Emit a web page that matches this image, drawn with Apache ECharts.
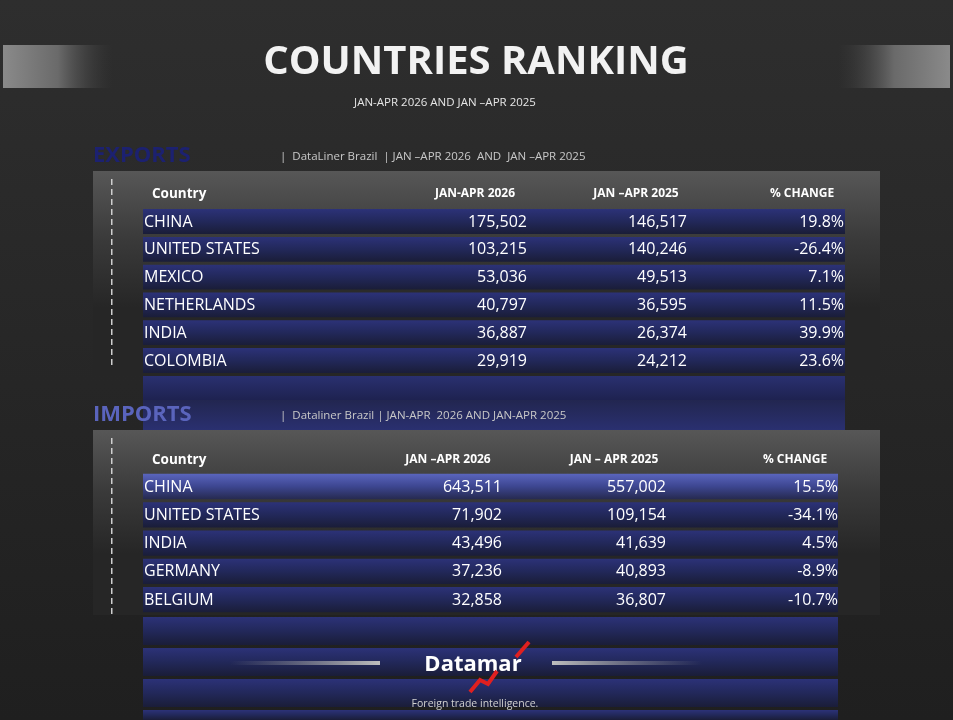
<!DOCTYPE html>
<html><head><meta charset="utf-8">
<script src="https://cdn.jsdelivr.net/npm/echarts@6/dist/echarts.min.js"></script>
<style>html,body{margin:0;padding:0;background:#262626}#c{width:953px;height:720px}</style>
</head><body><div id="c"></div>
<script>
const exportCountries = ["CHINA","UNITED STATES","MEXICO","NETHERLANDS","INDIA","COLOMBIA"];
const exports2026 = [175502,103215,53036,40797,36887,29919];
const exports2025 = [146517,140246,49513,36595,26374,24212];
const exportsChange = ["19.8%","-26.4%","7.1%","11.5%","39.9%","23.6%"];
const exportHeaders = ["Country","JAN-APR 2026","JAN –APR 2025","% CHANGE"];

const importCountries = ["CHINA","UNITED STATES","INDIA","GERMANY","BELGIUM"];
const imports2026 = [643511,71902,43496,37236,32858];
const imports2025 = [557002,109154,41639,40893,36807];
const importsChange = ["15.5%","-34.1%","4.5%","-8.9%","-10.7%"];
const importHeaders = ["Country","JAN –APR 2026","JAN – APR 2025","% CHANGE"];

const FONT = '"Open Sans",sans-serif';
const fmt = v => v.toLocaleString('en-US');
const g = [];
function txt(x,y,s,size,color,opt){
  opt=opt||{};
  g.push({type:'text',x:x,y:y,z:10,style:{text:s,fontSize:size,fill:color,fontFamily:opt.font||FONT,
    fontWeight:opt.bold?'bold':'normal',align:opt.align||'left',verticalAlign:'middle'}});
}
function rect(x,y,w,h,fill,z){g.push({type:'rect',shape:{x:x,y:y,width:w,height:h},style:{fill:fill},z:z||1});}
function lg(stops,horiz){return new echarts.graphic.LinearGradient(0,0,horiz?1:0,horiz?0:1,stops.map((c,i)=>({offset:i/(stops.length-1),color:c})));}

rect(3,45,110,43,lg(['#8a8a8a','#6a6a6a','rgba(60,60,60,0)'],true));
rect(838,45,112,43,lg(['rgba(60,60,60,0)','#6a6a6a','#8a8a8a'],true));
txt(476,63,'COUNTRIES RANKING',40,'#f2f2f2',{bold:true,align:'center'});
txt(445,103,'JAN-APR 2026 AND JAN –APR 2025',11.5,'#e6e6e6',{align:'center'});

function band(x,y,w,h,bright){
  rect(x,y,w,h,lg(bright?['#5a65bd','#3d4690','#262a50']:['#2c3278','#22285a','#1a1d38']));
}
function section(cfg){
  txt(93,cfg.titleY,cfg.title,22,cfg.titleColor,{bold:true});
  txt(280,cfg.titleY+1,'|  '+cfg.sub,11.5,'#c8c8c8');
  rect(93,cfg.panelY,787,cfg.panelH,lg(['#575757','#3a3a3a','#262626','#262626']));
  for(let y=cfg.panelY+8;y<cfg.panelY+cfg.dashH;y+=10) rect(111,y,1.5,6,'#cfcfcf',3);
  txt(152,cfg.headY,cfg.headers[0],13.5,'#ffffff',{bold:true});
  for(let i=1;i<4;i++) txt(cfg.headX[i-1],cfg.headY,cfg.headers[i],12,'#ffffff',{bold:true,align:'center'});
  cfg.countries.forEach((c,i)=>{
    const yc=cfg.rowY+i*cfg.rowH;
    band(143,yc-cfg.rowH/2+1,cfg.bandW,cfg.rowH-3,cfg.firstBright&&i===0);
    txt(144,yc,c,16,'#ffffff');
    txt(cfg.valX[0],yc,fmt(cfg.v1[i]),16,'#ffffff',{align:'right'});
    txt(cfg.valX[1],yc,fmt(cfg.v2[i]),16,'#ffffff',{align:'right'});
    txt(cfg.valX[2],yc,cfg.ch[i],16,'#ffffff',{align:'right'});
  });
}
section({title:'EXPORTS',titleColor:'#1c2170',titleY:156,sub:'DataLiner Brazil  | JAN –APR 2026  AND  JAN –APR 2025',
  panelY:171,panelH:205,dashH:190,headY:194,headers:exportHeaders,headX:[475,636,802],
  countries:exportCountries,v1:exports2026,v2:exports2025,ch:exportsChange,rowY:222,rowH:27.8,bandW:702,
  valX:[527,687,844],firstBright:false});
rect(143,376,702,24,lg(['#2a3070','#1e2250']));
rect(143,400,702,30,lg(['#222650','#2a3070']));
section({title:'IMPORTS',titleColor:'#5a64bc',titleY:415,sub:'Dataliner Brazil | JAN-APR  2026 AND JAN-APR 2025',
  panelY:430,panelH:185,dashH:180,headY:460,headers:importHeaders,headX:[448,614,795],
  countries:importCountries,v1:imports2026,v2:imports2025,ch:importsChange,rowY:487,rowH:28.3,bandW:695,
  valX:[502,666,838],firstBright:true});
[[617,28],[648,28],[679,28],[710,10]].forEach(b=>band(143,b[0],695,b[1],false));
rect(230,661,150,4,lg(['rgba(150,150,150,0)','#bdbdbd'],true));rect(552,661,150,4,lg(['#bdbdbd','rgba(150,150,150,0)'],true));
g.push({type:'polyline',z:11,shape:{points:[[470,692],[480,680],[488,684],[497,671]]},style:{stroke:'#e02020',lineWidth:4,fill:null}});
g.push({type:'line',z:11,shape:{x1:516,y1:657,x2:529,y2:642},style:{stroke:'#e02020',lineWidth:4}});
txt(473,665,'Datamar',22,'#ffffff',{bold:true,align:'center'});
txt(475,704,'Foreign trade intelligence.',10.5,'#d0d0d0',{align:'center'});

const chart=echarts.init(document.getElementById('c'));
chart.setOption({backgroundColor:lg(['#2e2e2e','#1f1f1f']),animation:false,graphic:g});
</script></body></html>
